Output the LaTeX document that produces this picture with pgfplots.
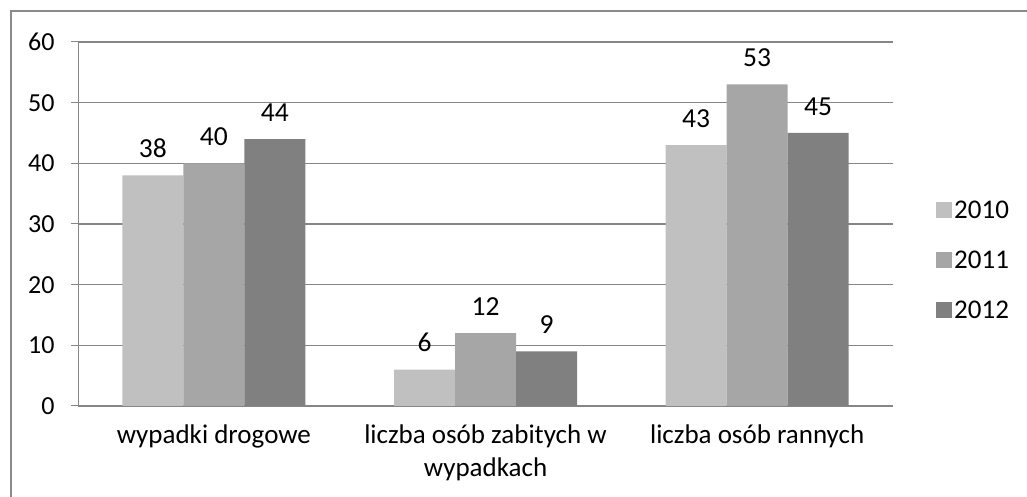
\documentclass[border=0pt]{standalone}
\usepackage{fontspec}
\setmainfont{Carlito}
\usepackage{pgfplots}
\pgfplotsset{compat=1.18}
\pgfplotsset{/pgf/number format/assume math mode=true}
\definecolor{c2010}{HTML}{C0C0C0}
\definecolor{c2011}{HTML}{A6A6A6}
\definecolor{c2012}{HTML}{808080}
\definecolor{gridc}{HTML}{868686}
\definecolor{framec}{HTML}{8A8A8A}
\begin{document}
\begin{tikzpicture}[x=1bp,y=1bp]
\useasboundingbox (0,0) rectangle (1027,497);
\draw[framec, line width=2.5bp] (11,0) -- (11,486) -- (1027,486);
\begin{axis}[
  at={(78bp,91bp)}, anchor=south west,
  scale only axis, width=815bp, height=364bp,
  xmin=-0.5, xmax=2.5, ymin=0, ymax=60,
  ybar=0pt, bar width=61bp,
  axis x line*=bottom, axis y line*=left,
  axis line style={-},
  x axis line style={gridc, line width=2bp},
  y axis line style={gridc, line width=1bp},
  ytick={0,10,...,60},
  ymajorgrids, grid style={gridc, line width=1.2bp},
  tick align=outside, major tick length=7bp,
  tick style={gridc, line width=1bp},
  xtick={0,1,2},
  xticklabels={wypadki drogowe, {liczba osób zabitych w\\wypadkach}, liczba osób rannych},
  major x tick style={draw=none},
  extra x ticks={-0.5,0.5,1.5,2.5},
  extra x tick labels={},
  extra x tick style={grid=none, major x tick style={gridc, line width=1bp}, major tick length=7bp},
  xticklabel style={font=\fontsize{27bp}{33bp}\selectfont, align=center, yshift=-8bp},
  yticklabel style={font=\fontsize{26bp}{30bp}\selectfont, xshift=-13bp},
  nodes near coords,
  every node near coord/.append style={font=\fontsize{27.5bp}{30bp}\selectfont, black, yshift=14bp},
  legend style={at={(1,0.5)}, anchor=west, xshift=40bp, yshift=-36bp, draw=none, fill=none,
    font=\fontsize{27bp}{30bp}\selectfont, row sep=27bp},
  legend cell align=left,
  legend image code/.code={\fill[#1] (0bp,-8bp) rectangle (16bp,8bp);},
]
\addplot[fill=c2010, draw=none] coordinates {(0,38) (1,6) (2,43)};
\addplot[fill=c2011, draw=none] coordinates {(0,40) (1,12) (2,53)};
\addplot[fill=c2012, draw=none] coordinates {(0,44) (1,9) (2,45)};
\legend{2010,2011,2012}
\end{axis}
\end{tikzpicture}
\end{document}
